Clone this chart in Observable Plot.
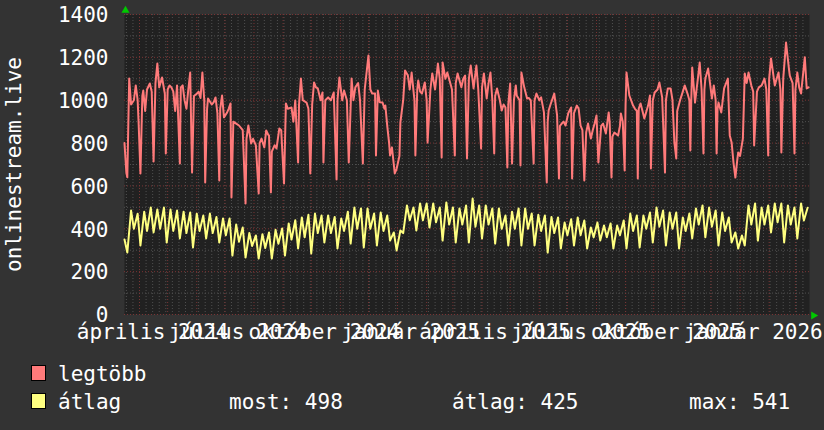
<!DOCTYPE html>
<html><head><meta charset="utf-8">
<script src="https://cdn.jsdelivr.net/npm/d3@7"></script>
<script src="https://cdn.jsdelivr.net/npm/@observablehq/plot@0.6"></script>
<style>
html,body{margin:0;padding:0;background:#333;}
#wrap{position:relative;width:824px;height:430px;background:#333;overflow:hidden;font-family:"DejaVu Sans Mono",monospace;color:#fff;}
#chart svg{display:block}
.sw{position:absolute;width:15px;height:16px;box-sizing:border-box;border:1px solid #000;}
.lt{position:absolute;font-size:21px;line-height:21px;white-space:pre;color:#fff;}
</style></head>
<body><div id="wrap"><div id="chart"></div></div>
<script>
// ---- data ----
const startDay = "2024-03-16";
const spanDays = 730;
const yTicks = [0, 200, 400, 600, 800, 1000, 1200, 1400];
const yMinor = [100, 300, 500, 700, 900, 1100, 1300];
const xLabelDates = ["2024-04-15","2024-07-15","2024-10-15","2025-01-15","2025-04-15","2025-07-15","2025-10-15","2026-01-15"];
const xLabelTexts = ["április 2024","július 2024","október 2024","január 2025","április 2025","július 2025","október 2025","január 2026"];
const yTitle = "onlinestream.live";
const seriesNames = ["legtöbb", "átlag"];
const statLabels = ["most", "átlag", "max"];
const statValues = [498, 425, 541];

// legtöbb (max) — days since start, values
const maxDays = [0,2,3,5,7,10,12,14,15,17,19,20,22,24,27,29,31,33,35,37,40,43,44,46,48,50,52,54,56,59,60,62,64,66,68,70,72,74,77,79,81,83,85,86,88,89,93,95,97,99,101,102,104,106,109,111,113,114,116,119,122,126,129,130,132,135,137,140,143,144,146,149,151,153,154,156,157,160,162,165,167,170,172,174,178,180,182,185,186,188,190,194,196,198,200,202,204,206,209,211,212,214,217,220,223,226,227,229,232,234,237,239,242,244,246,249,251,254,256,260,262,264,267,268,270,272,275,277,278,280,282,283,285,287,288,290,293,294,297,299,302,304,306,309,310,312,313,315,317,320,322,323,326,328,331,334,336,338,339,342,344,347,349,352,353,355,359,361,363,365,367,369,372,375,377,380,381,383,386,388,390,392,394,395,397,400,402,404,406,408,409,411,413,415,417,418,421,422,423,426,429,431,433,436,437,439,442,444,447,450,451,452,454,458,461,463,464,466,468,470,473,476,477,479,482,484,486,488,490,492,494,497,499,501,503,505,508,510,513,516,517,519,520,522,526,528,529,531,533,534,535,538,542,544,546,547,548,550,552,554,558,560,561,563,565,568,570,573,576,577,579,582,584,586,588,589,592,595,597,600,602,603,604,605,608,611,613,615,617,618,619,622,626,628,630,631,632,633,636,639,643,645,647,649,651,653,654,656,659,661,663,665,668,670,671,674,676,679,682,684,686,687,689,693,695,697,699,700,702,705,708,709,712,714,715,717,719,721,725,727,729];
const maxValues = [800,660,640,1101,980,1000,1069,1000,900,658,1020,1045,950,1050,1078,1040,714,1080,1171,1060,1106,1030,751,1050,1069,1060,1040,950,1069,705,1060,1069,1000,960,1050,1129,663,1020,1030,1040,1010,1129,1000,616,960,1008,980,990,1013,940,625,960,1022,920,940,960,985,546,900,891,882,860,518,820,882,798,820,789,565,800,821,780,859,840,835,570,760,790,775,868,860,611,985,960,966,900,999,709,980,1101,1000,989,960,658,980,1083,1060,1055,1000,1036,709,1000,1013,1000,1036,630,1000,1106,1000,1045,1000,709,1101,1000,1060,1080,1000,705,1050,1209,1050,1031,1031,742,1045,990,989,960,975,880,800,742,780,700,658,680,740,896,1000,1139,1115,1050,1129,1000,742,1050,1092,1040,1031,1083,1000,803,1050,1125,1050,1171,1100,733,1176,1100,1129,1083,1050,742,1080,1125,1060,1100,1115,728,1100,1162,1055,1162,1050,775,1060,1125,1008,1080,1129,1000,751,1020,1055,1000,952,980,966,686,980,1078,705,1000,1069,1022,1000,695,1129,1060,1008,1010,999,705,1000,1031,1000,1013,943,616,900,952,980,1031,929,635,880,891,900,882,940,966,635,940,975,960,882,860,625,850,891,821,860,891,929,709,880,891,845,943,900,639,830,849,835,880,938,900,672,980,1129,1022,975,960,950,635,960,985,950,915,975,1022,681,1000,1036,1050,1083,1013,663,1000,1055,1055,1000,803,728,950,999,1040,1069,1031,1000,765,1000,1153,989,1100,1176,1050,751,1050,1101,1148,1008,1069,1000,751,960,989,943,1055,1101,835,803,709,639,720,756,740,821,1125,1080,1129,1069,1040,789,1040,1060,1069,1101,1050,742,1100,1195,1069,1100,1129,1050,756,1100,1269,1150,1115,1080,751,1050,1129,1060,1031,1200,1055,1060];

// átlag (average) — weekly high (week start) and mid-week low readings
const avgWeekHigh = [350,485,470,480,499,490,499,490,485,480,476,470,462,471,455,448,448,420,406,380,369,375,383,395,401,425,440,453,465,471,462,462,455,448,480,499,495,495,471,476,462,383,392,509,499,518,518,518,499,523,499,495,509,541,509,509,495,495,462,480,495,495,471,465,462,455,453,429,445,453,439,406,429,415,425,415,439,471,462,462,476,499,485,476,476,453,471,495,509,499,485,476,453,383,369,509,518,499,509,518,518,509,499,518,498];
const avgWeekLow = [289,400,322,390,383,400,336,390,355,380,313,390,355,380,336,370,275,340,266,320,261,310,261,330,275,350,308,360,285,380,336,380,308,390,331,400,313,400,322,390,345,299,380,440,392,440,406,430,345,420,336,420,336,410,355,420,331,400,322,400,322,400,322,390,289,380,308,370,322,370,308,360,345,360,308,370,308,390,313,400,336,410,322,400,308,390,355,420,360,410,322,390,336,308,322,420,345,420,383,430,336,420,355,439];

// ---- build tables ----
const start = new Date(startDay + "T00:00:00Z");
const end = d3.utcDay.offset(start, spanDays);
const dayDate = d => new Date(start.getTime() + d * 864e5);
const maxRows = maxDays.map((d, i) => ({date: dayDate(d), value: maxValues[i]}));
const avgRows = [];
avgWeekHigh.forEach((v, k) => {
  avgRows.push({date: dayDate(7 * k), value: v});
  if (k < avgWeekLow.length) avgRows.push({date: dayDate(7 * k + 3), value: avgWeekLow[k]});
});
const xLabels = xLabelDates.map((d, i) => ({date: new Date(d + "T00:00:00Z"), text: xLabelTexts[i]}));
const weeks = d3.utcMonday.range(start, end);
const months = d3.utcMonth.range(start, end);

const RED = "#ff7a7a", YEL = "#ffff80";
const MINOR = "#505050", MAJOR = "#7a3434";

const chart = Plot.plot({
  width: 824, height: 350,
  marginLeft: 124, marginRight: 15, marginTop: 14, marginBottom: 36,
  style: {background: "transparent", color: "#fff", fontFamily: "'DejaVu Sans Mono', monospace", fontSize: "21px"},
  x: {type: "utc", domain: [start, end], axis: null},
  y: {domain: [0, 1400], axis: null},
  marks: [
    Plot.frame({fill: "#212121", stroke: null}),
    Plot.ruleX(weeks, {stroke: MINOR, strokeDasharray: "1,2"}),
    Plot.ruleY(yMinor, {stroke: MINOR, strokeDasharray: "1,2"}),
    Plot.ruleX(months, {stroke: MAJOR, strokeDasharray: "1,2"}),
    Plot.ruleY(yTicks, {stroke: MAJOR, strokeDasharray: "1,2"}),
    Plot.line(maxRows, {x: "date", y: "value", stroke: RED, strokeWidth: 2}),
    Plot.line(avgRows, {x: "date", y: "value", stroke: YEL, strokeWidth: 2}),
    Plot.axisY(yTicks, {tickSize: 0, tickPadding: 16, fontSize: 21, fill: "#fff", label: null, tickFormat: d => String(d), dy: 1}),
    Plot.text([yTitle], {frameAnchor: "left", dx: -110, rotate: -90, textAnchor: "middle", lineAnchor: "middle", fontSize: 21, fill: "#fff"}),
    Plot.text(xLabels, {x: "date", frameAnchor: "bottom", dy: 24, text: "text", textAnchor: "middle", lineAnchor: "bottom", fontSize: 21, fill: "#fff"}),
    Plot.dot([{d: start, v: 1400}], {x: "d", y: "v", symbol: "triangle", r: 3, fill: "#00c800", stroke: null, dx: 1, dy: -4}),
    Plot.dot([{d: end, v: 0}], {x: "d", y: "v", symbol: "triangle", r: 3, fill: "#00c800", stroke: null, rotate: 90, dx: 4, dy: 1})
  ]
});
document.getElementById("chart").appendChild(chart);

// ---- legend ----
const wrap = document.getElementById("wrap");
const colors = [RED, YEL];
function add(cls, css, text) {
  const el = document.createElement("div");
  el.className = cls;
  Object.assign(el.style, css);
  if (text != null) el.textContent = text;
  wrap.appendChild(el);
}
seriesNames.forEach((name, i) => {
  add("sw", {left: "31px", top: (365 + 28 * i) + "px", background: colors[i]});
  add("lt", {left: "58px", top: (364 + 28 * i) + "px"}, name);
});
const statX = [229, 452, 689];
statLabels.forEach((s, i) => {
  add("lt", {left: statX[i] + "px", top: "392px"}, s + ": " + statValues[i]);
});
</script></body></html>
